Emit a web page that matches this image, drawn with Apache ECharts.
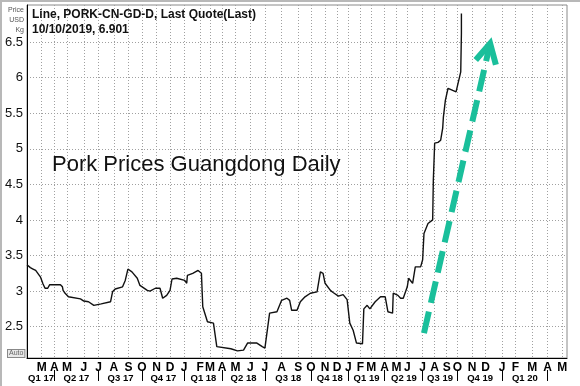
<!DOCTYPE html>
<html><head><meta charset="utf-8">
<script src="https://cdn.jsdelivr.net/npm/echarts@6/dist/echarts.min.js"></script>
<style>html,body{margin:0;padding:0;background:#fff}#c{width:580px;height:386px}</style>
</head><body><div id="c"></div>
<script>
// ---- data ----
const monthKeys = ['2017-02','2017-03','2017-04','2017-05','2017-06','2017-07','2017-08','2017-09','2017-10','2017-11','2017-12',
 '2018-01','2018-02','2018-03','2018-04','2018-05','2018-06','2018-07','2018-08','2018-09','2018-10','2018-11','2018-12',
 '2019-01','2019-02','2019-03','2019-04','2019-05','2019-06','2019-07','2019-08','2019-09','2019-10','2019-11','2019-12',
 '2020-01','2020-02','2020-03','2020-04','2020-05'];
// observations plotted in each month (gaps in the daily feed make months uneven)
const monthObs = [22,19,19,25,22,23,22,20,22,20,21, 24,15,18,20,22,22,25,25,19,21,18,17, 18,16,20,18,16,23,18,18,16,22,20,25, 20,25,23,22,8];
const monthLetters = ['J','F','M','A','M','J','J','A','S','O','N','D'];
const quarterLabels = ['Q1 17','Q2 17','Q3 17','Q4 17','Q1 18','Q2 18','Q3 18','Q4 18','Q1 19','Q2 19','Q3 19','Q4 19','Q1 20'];
const yTicks = [2.5,3,3.5,4,4.5,5,5.5,6,6.5];

const priceDates = ['2017-02-01','2017-02-07','2017-02-12','2017-02-18','2017-02-26','2017-03-04','2017-03-09','2017-03-16','2017-03-21',
 '2017-04-15','2017-04-20','2017-04-22','2017-04-27','2017-05-03','2017-05-26','2017-06-01','2017-06-11','2017-06-21','2017-07-06',
 '2017-07-25','2017-07-29','2017-08-04','2017-08-19','2017-08-25','2017-08-31','2017-09-09','2017-09-20','2017-09-27','2017-10-12',
 '2017-10-18','2017-10-29','2017-11-09','2017-11-15','2017-11-24','2017-12-01','2017-12-05','2017-12-16','2018-01-02','2018-01-06',
 '2018-01-08','2018-01-18','2018-01-28','2018-02-04','2018-02-09','2018-02-21','2018-03-09','2018-03-19','2018-03-22','2018-04-20',
 '2018-05-05','2018-05-18','2018-05-26','2018-06-15','2018-06-25','2018-07-01','2018-07-10','2018-07-23','2018-08-01','2018-08-11',
 '2018-08-16','2018-08-20','2018-08-30','2018-09-05','2018-09-17','2018-09-29','2018-10-15','2018-10-21','2018-10-28','2018-11-01',
 '2018-11-14','2018-11-21','2018-12-04','2018-12-18','2018-12-28','2019-01-05','2019-01-13','2019-01-21','2019-02-06','2019-02-09',
 '2019-02-19','2019-02-26','2019-03-10','2019-03-22','2019-04-02','2019-04-10','2019-04-21','2019-04-23','2019-05-04','2019-05-13',
 '2019-05-21','2019-06-01','2019-06-04','2019-06-11','2019-06-13','2019-06-17','2019-06-27','2019-07-01','2019-07-04','2019-07-14',
 '2019-07-27','2019-07-29','2019-08-01','2019-08-09','2019-08-16','2019-08-22','2019-08-24','2019-08-29','2019-09-04','2019-09-17',
 '2019-09-28','2019-10-08','2019-10-09','2019-10-10'];
const priceValues = [3.37,3.33,3.31,3.29,3.20,3.10,3.04,3.04,3.09,
 3.09,3.06,3.01,2.97,2.92,2.89,2.86,2.85,2.80,2.82,
 2.85,2.99,3.03,3.06,3.15,3.31,3.27,3.18,3.08,3.01,
 3.00,3.04,3.04,2.90,2.94,3.01,3.17,3.18,3.15,3.11,
 3.22,3.25,3.29,3.25,2.78,2.57,2.55,2.22,2.20,2.19,
 2.16,2.17,2.27,2.27,2.22,2.20,2.69,2.71,2.87,2.90,
 2.87,2.73,2.73,2.85,2.92,2.97,2.99,3.27,3.25,3.11,
 3.01,2.98,2.93,2.95,2.88,2.55,2.45,2.27,2.26,2.75,
 2.80,2.75,2.85,2.92,2.92,2.71,2.69,2.97,2.94,2.90,
 2.90,3.06,3.18,3.11,3.13,3.34,3.34,3.44,3.81,3.95,
 4.00,4.56,5.08,5.09,5.12,5.29,5.44,5.68,5.85,5.82,
 5.80,6.08,6.62,6.901];

const arrowFrom = ['2019-07-04', 2.41];
const arrowTo = ['2019-12-10', 6.48];

// ---- build categories ----
const cats = [];
const monthStart = [];
monthKeys.forEach((k, m) => {
  monthStart.push(cats.length);
  for (let i = 0; i < monthObs[m]; i++) cats.push(k + '-' + i);
});
function dateIdx(d) {
  const m = monthKeys.indexOf(d.slice(0, 7));
  const y = +d.slice(0, 4), mo = +d.slice(5, 7), day = +d.slice(8, 10);
  const dim = new Date(y, mo, 0).getDate();
  return monthStart[m] + Math.min(monthObs[m] - 1, Math.round((day - 1) / dim * monthObs[m]));
}
const monthStartSet = new Set(monthStart.slice(1));
const quarterStarts = [];
monthKeys.forEach((k, m) => { const mo = +k.slice(5, 7); if (m > 0 && (mo - 1) % 3 === 0) quarterStarts.push(monthStart[m]); });
const quarterStartSet = new Set(quarterStarts);
const qBounds = [0].concat(quarterStarts);
const quarterCenter = new Map();
quarterLabels.forEach((lab, q) => {
  const c = Math.round((qBounds[q] + qBounds[q + 1]) / 2);
  quarterCenter.set(c, lab);
});

const seriesData = priceDates.map((d, i) => [dateIdx(d), priceValues[i]]);
const FONT = 'Liberation Sans, Arial, sans-serif';
const grid = { left: 27, right: 13, top: 5, bottom: 28 };

const chart = echarts.init(document.getElementById('c'), null, { renderer: 'canvas' });
chart.setOption({
  animation: false,
  backgroundColor: '#fff',
  grid: Object.assign({ show: true, borderColor: '#8a8a8a', borderWidth: 1, containLabel: false, outerBoundsMode: 'none' }, grid),
  xAxis: [{
    type: 'category', data: cats, boundaryGap: false,
    axisLine: { show: true, lineStyle: { color: '#000', width: 1 } },
    axisTick: { show: false },
    axisLabel: {
      interval: (i) => monthStartSet.has(i),
      formatter: (v) => monthLetters[+v.slice(5, 7) - 1],
      color: '#000', fontWeight: 'bold', fontSize: 12, margin: 4, fontFamily: FONT
    },
    splitLine: { show: true, interval: (i) => monthStartSet.has(i), lineStyle: { color: '#a0a0a0', type: [1, 2], width: 1 } }
  }, {
    type: 'category', data: cats, boundaryGap: false, position: 'bottom', offset: 12,
    axisLine: { show: false },
    axisTick: { show: true, interval: (i) => quarterStartSet.has(i), length: 11, lineStyle: { color: '#000', width: 1 } },
    axisLabel: {
      interval: (i) => quarterCenter.has(i),
      formatter: (v, i) => quarterCenter.get(i) || '',
      color: '#000', fontWeight: 'bold', fontSize: 9.5, margin: 3, fontFamily: FONT
    },
    splitLine: { show: false }
  }],
  yAxis: {
    type: 'value', min: 2.06, max: 7.02,
    axisLine: { show: true, lineStyle: { color: '#000', width: 1 } },
    axisTick: { show: false, customValues: yTicks },
    axisLabel: { customValues: yTicks, formatter: (v) => String(v), color: '#111', fontSize: 13, margin: 4, fontFamily: FONT },
    splitLine: { show: true, lineStyle: { color: '#a0a0a0', type: [1, 2], width: 1 } }
  },
  series: [{
    type: 'line', data: seriesData, xAxisIndex: 0, yAxisIndex: 0,
    symbol: 'none', lineStyle: { color: '#111', width: 1.4 }, z: 3
  }]
});

// ---- annotations ----
const p0 = chart.convertToPixel({ xAxisIndex: 0, yAxisIndex: 0 }, [dateIdx(arrowFrom[0]), arrowFrom[1]]);
const p1 = chart.convertToPixel({ xAxisIndex: 0, yAxisIndex: 0 }, [dateIdx(arrowTo[0]), arrowTo[1]]);
const dx = p0[0] - p1[0], dy = p0[1] - p1[1], len = Math.hypot(dx, dy);
const ux = dx / len, uy = dy / len, th = 28 * Math.PI / 180, L = 22;
const a1 = [p1[0] + L * (ux * Math.cos(th) - uy * Math.sin(th)), p1[1] + L * (ux * Math.sin(th) + uy * Math.cos(th))];
const a2 = [p1[0] + L * (ux * Math.cos(-th) - uy * Math.sin(-th)), p1[1] + L * (ux * Math.sin(-th) + uy * Math.cos(-th))];
const GREEN = '#1abf9b';

chart.setOption({
  graphic: [
    { type: 'rect', shape: { x: 0, y: 0, width: 580, height: 2 }, style: { fill: '#b8b8b8' }, silent: true },
    { type: 'rect', shape: { x: 0, y: 0, width: 2, height: 386 }, style: { fill: '#b8b8b8' }, silent: true },
    { type: 'text', x: 32, y: 9, style: { text: 'Line, PORK-CN-GD-D, Last Quote(Last)', font: 'bold 12px ' + FONT, fill: '#111' } },
    { type: 'text', x: 32, y: 24, style: { text: '10/10/2019, 6.901', font: 'bold 12px ' + FONT, fill: '#111' } },
    { type: 'text', x: 24, y: 7, style: { text: 'Price', font: '7px ' + FONT, fill: '#555', align: 'right' } },
    { type: 'text', x: 24, y: 17, style: { text: 'USD', font: '7px ' + FONT, fill: '#555', align: 'right' } },
    { type: 'text', x: 24, y: 27, style: { text: 'Kg', font: '7px ' + FONT, fill: '#555', align: 'right' } },
    { type: 'text', x: 52, y: 154, style: { text: 'Pork Prices Guangdong Daily', font: '22px ' + FONT, fill: '#111' } },
    { type: 'text', x: 8, y: 350, style: { text: 'Auto', font: '7px ' + FONT, fill: '#666', backgroundColor: '#e8e8e8', borderColor: '#888', borderWidth: 1, padding: [0, 1] } },
    { type: 'line', shape: { x1: p0[0], y1: p0[1], x2: p1[0], y2: p1[1] }, style: { stroke: GREEN, lineWidth: 6, lineDash: [22, 9] }, z: 10 },
    { type: 'polyline', shape: { points: [a1, [p1[0], p1[1]], a2] }, style: { stroke: GREEN, lineWidth: 6, fill: null, lineJoin: 'miter' }, z: 10 }
  ]
});
</script></body></html>
